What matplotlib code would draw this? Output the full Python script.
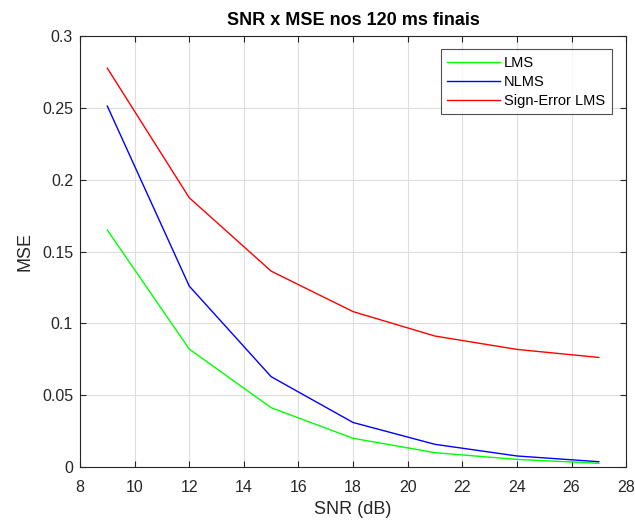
import matplotlib
matplotlib.use("Agg")
import matplotlib.pyplot as plt

plt.rcParams['font.family'] = ['Liberation Sans', 'DejaVu Sans']

snr = [9, 12, 15, 18, 21, 24, 27]
mse_lms = [0.165, 0.0821, 0.0413, 0.0200, 0.0100, 0.0053, 0.0026]
mse_nlms = [0.2513, 0.126, 0.0629, 0.0310, 0.0158, 0.0077, 0.0037]
mse_sign = [0.2777, 0.1875, 0.1364, 0.1082, 0.0912, 0.0819, 0.0763]

dark = '#262626'

fig = plt.figure(figsize=(6.35, 5.21), dpi=100)
ax = fig.add_axes([0.126, 0.1036, 0.86, 0.827])

ax.plot(snr, mse_lms, color='#00ff00', lw=1.0, label='LMS')
ax.plot(snr, mse_nlms, color='#0000ff', lw=1.0, label='NLMS')
ax.plot(snr, mse_sign, color='#ff0000', lw=1.0, label='Sign-Error LMS')

ax.set_xlim(8, 28)
ax.set_ylim(0, 0.3)
ax.set_xticks(range(8, 29, 2))
ax.set_yticks([0, 0.05, 0.1, 0.15, 0.2, 0.25, 0.3])
ax.set_yticklabels(['0', '0.05', '0.1', '0.15', '0.2', '0.25', '0.3'])

ax.grid(True, color='#dedede', lw=0.8)
ax.set_axisbelow(True)
ax.tick_params(direction='in', length=4, colors=dark, labelsize=11.5, top=True, right=True,
               labeltop=False, labelright=False)
ax.tick_params(axis='x', pad=9)
ax.tick_params(axis='y', pad=5)
for s in ax.spines.values():
    s.set_color(dark)
    s.set_linewidth(0.8)

ax.set_xlabel('SNR (dB)', fontsize=13, color=dark, labelpad=5)
ax.set_ylabel('MSE', fontsize=13, color=dark, labelpad=6)
ax.set_title('SNR x MSE nos 120 ms finais', fontsize=13, fontweight='bold', color='black', pad=8)

leg = ax.legend(loc='upper right', fontsize=10.5, frameon=True, fancybox=False,
                edgecolor=dark, handlelength=3.6, borderpad=0.45, labelspacing=0.35,
                handletextpad=0.3, borderaxespad=0, bbox_to_anchor=(0.974, 0.970))
leg.get_frame().set_linewidth(0.8)

fig.savefig('out.png', dpi=100)
